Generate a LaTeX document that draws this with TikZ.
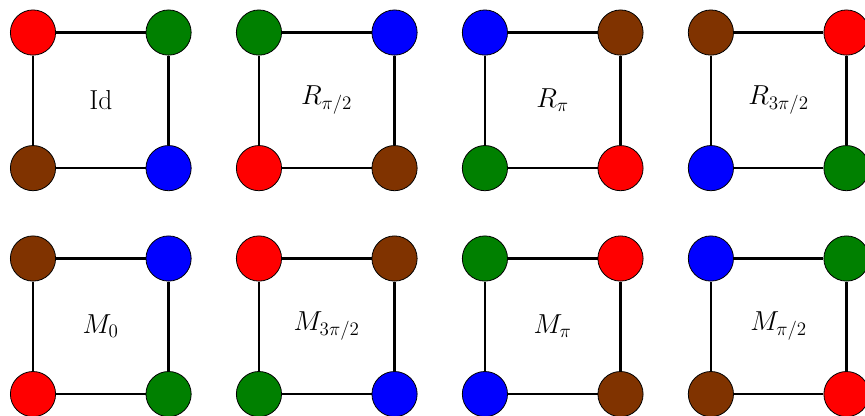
\documentclass[tikz,border=0pt]{standalone}
\usetikzlibrary{positioning}
\definecolor{cred}{RGB}{255,0,0}
\definecolor{cgreen}{RGB}{0,128,0}
\definecolor{cblue}{RGB}{0,0,255}
\definecolor{cbrown}{RGB}{128,51,0}
\begin{document}
\begin{tikzpicture}[
    vertex/.style={circle, draw, line width=0.5pt, minimum size=1cm, inner sep=0pt},
    side/.style={line width=1.4pt},
    lab/.style={font=\LARGE}
]
\useasboundingbox (-0.73,0.72) rectangle (18.41,-8.48);
% one square per symmetry: x/y of top left, name, label, colours tl/tr/bl/br
\foreach \x/\y/\nm/\txt/\ca/\cb/\cc/\cd in {
    0/0/id/{Id}/cred/cgreen/cbrown/cblue,
    5/0/rot1/{$R_{\pi/2}$}/cgreen/cblue/cred/cbrown,
    10/0/rot2/{$R_{\pi}$}/cblue/cbrown/cgreen/cred,
    15/0/rot3/{$R_{3\pi/2}$}/cbrown/cred/cblue/cgreen,
    0/-5/mir0/{$M_{0}$}/cbrown/cblue/cred/cgreen,
    5/-5/mir3/{$M_{3\pi/2}$}/cred/cbrown/cgreen/cblue,
    10/-5/mir2/{$M_{\pi}$}/cgreen/cred/cblue/cbrown,
    15/-5/mir1/{$M_{\pi/2}$}/cblue/cgreen/cbrown/cred}
{
    \node[vertex, fill=\ca] (\nm-tl) at (\x,\y) {};
    \node[vertex, fill=\cb] (\nm-tr) at (\x+3,\y) {};
    \node[vertex, fill=\cc] (\nm-bl) at (\x,\y-3) {};
    \node[vertex, fill=\cd] (\nm-br) at (\x+3,\y-3) {};
    \node[lab] (\nm-lab) at (\x+1.5,\y-1.5) {\txt};
    \draw[side] (\nm-tl) -- (\nm-tr);
    \draw[side] (\nm-tr) -- (\nm-br);
    \draw[side] (\nm-br) -- (\nm-bl);
    \draw[side] (\nm-bl) -- (\nm-tl);
}
\end{tikzpicture}
\end{document}
